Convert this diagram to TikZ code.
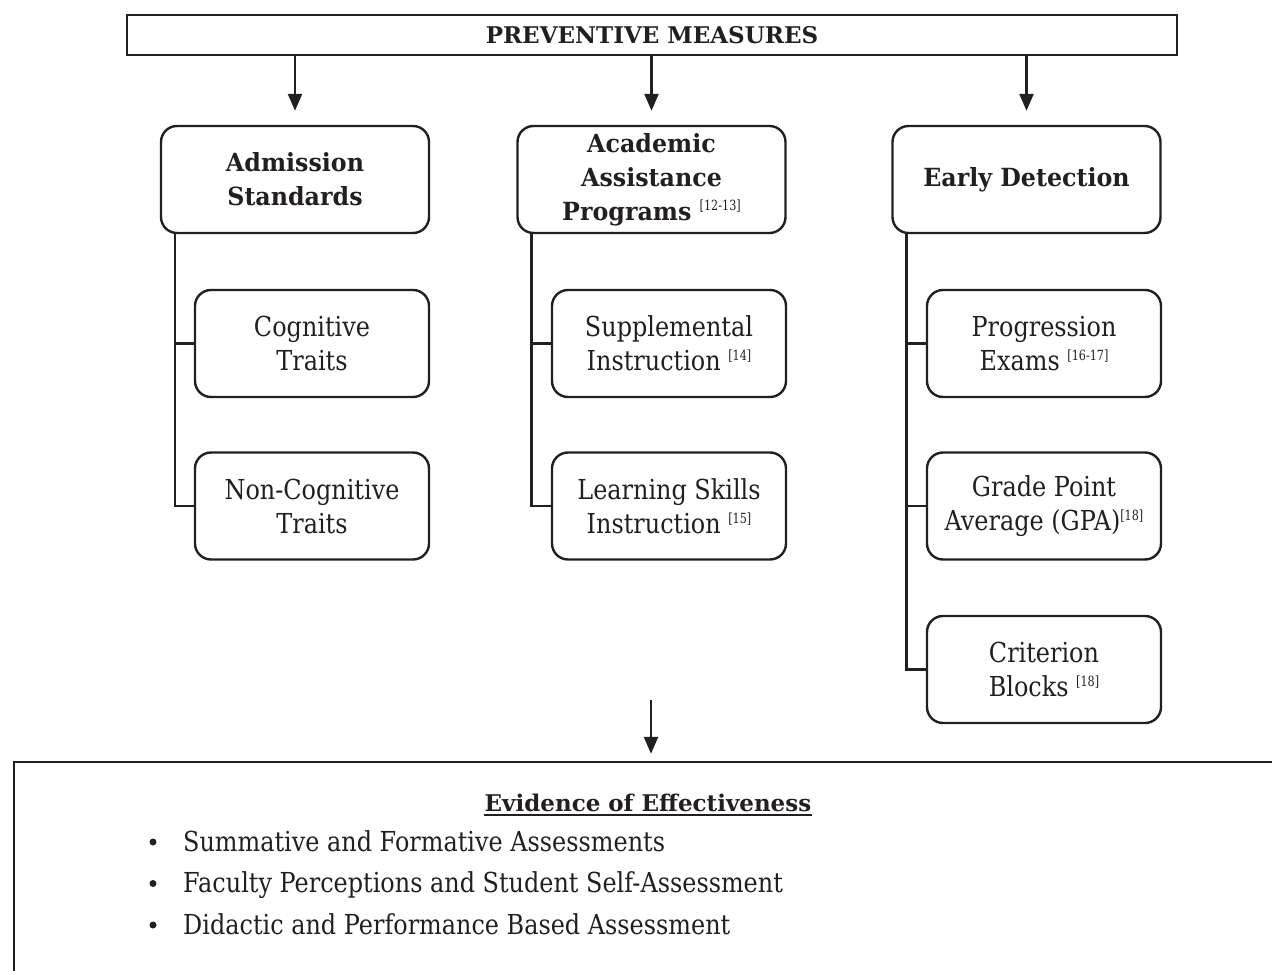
\documentclass[tikz,border=0pt]{standalone}
\usepackage{fontspec}
\setmainfont{DejaVu Serif}[FakeStretch=0.87]
\newfontfamily\ttlfont{DejaVu Serif}[FakeStretch=0.95]
\newfontfamily\hdfont{DejaVu Serif}[FakeStretch=1.0]
\newfontfamily\supfont{DejaVu Serif}[FakeStretch=0.8]
\usetikzlibrary{arrows.meta}
\definecolor{ink}{HTML}{231F20}
\newcommand{\refmark}[1]{\raisebox{10pt}{\supfont\mdseries\fontsize{14}{14}\selectfont[#1]}}
\tikzset{
  topbox/.style={draw, line width=2.4pt, minimum width=1050pt, minimum height=40pt, inner sep=0pt,
    font=\hdfont\bfseries\fontsize{23}{28}\selectfont},
  mainbox/.style={draw, line width=2.4pt, rounded corners=16pt, minimum width=268pt, minimum height=107pt,
    inner sep=0pt, align=center, font=\ttlfont\bfseries\fontsize{25}{34}\selectfont},
  subbox/.style={draw, line width=2.4pt, rounded corners=16pt, minimum width=234pt, minimum height=107pt,
    inner sep=0pt, align=center, font=\fontsize{27.5}{34}\selectfont},
  evbox/.style={draw, line width=2.4pt, minimum width=1276pt, minimum height=228pt, inner sep=0pt},
  evtitle/.style={inner sep=0pt, anchor=base, font=\hdfont\bfseries\fontsize{23}{28}\selectfont},
  bul/.style={inner sep=0pt, anchor=base west, font=\fontsize{27.5}{34}\selectfont},
  dot/.style={circle, fill, inner sep=0pt, minimum size=7pt},
  arr/.style={line width=2.4pt, -{Triangle[length=17pt,width=14pt]}},
  tree/.style={line width=2.4pt}
}
\begin{document}
\begin{tikzpicture}[x=1pt,y=-1pt,color=ink]
\useasboundingbox (0,0) rectangle (1272,971);
\clip (0,0) rectangle (1272,971);

\node[topbox] (pm) at (652,35) {PREVENTIVE MEASURES};

\node[mainbox] (adm) at (295,179.5) {Admission\\Standards};
\node[mainbox] (aca) at (651.5,179.5) {Academic\\Assistance\\Programs \refmark{12-13}};
\node[mainbox] (ear) at (1026.5,179.5) {Early Detection};

\node[subbox] (cog)  at (312,343.5) {Cognitive\\Traits};
\node[subbox] (ncog) at (312,506) {Non-Cognitive\\Traits};
\node[subbox] (sup)  at (669,343.5) {Supplemental\\Instruction \refmark{14}};
\node[subbox] (lsk)  at (669,506) {Learning Skills\\Instruction \refmark{15}};
\node[subbox] (pro)  at (1044,343.5) {Progression\\Exams \refmark{16-17}};
\node[subbox] (gpa)  at (1044,506) {Grade Point\\Average (GPA)\refmark{18}};
\node[subbox] (cri)  at (1044,669.5) {Criterion\\Blocks \refmark{18}};

\foreach \n in {adm,aca,ear}
  \draw[arr, shorten >=14pt] (pm.south -| \n.north) -- (\n.north);

\coordinate (admx) at ([xshift=15pt]adm.south west);
\coordinate (acax) at ([xshift=15pt]aca.south west);
\coordinate (earx) at ([xshift=15pt]ear.south west);
\draw[tree] (admx) |- (cog.west);
\draw[tree] (admx) |- (ncog.west);
\draw[tree] (acax) |- (sup.west);
\draw[tree] (acax) |- (lsk.west);
\draw[tree] (earx) |- (pro.west);
\draw[tree] (earx) |- (gpa.west);
\draw[tree] (earx) |- (cri.west);

\node[evbox] (ev) at (652,876) {};
\coordinate (evs) at (651,700);
\draw[arr, shorten >=7pt] (evs) -- (evs |- ev.north);

\node[evtitle] (evt) at (648,811) {Evidence of Effectiveness};
\draw[line width=1.8pt] ([yshift=-4pt]evt.base west) -- ([yshift=-4pt]evt.base east);

\node[bul] (b1) at (183,851) {Summative and Formative Assessments};
\node[bul] (b2) at (183,892.5) {Faculty Perceptions and Student Self-Assessment};
\node[bul] (b3) at (183,934) {Didactic and Performance Based Assessment};
\node[dot] (d1) at (153,842) {};
\node[dot] (d2) at (153,883.5) {};
\node[dot] (d3) at (153,925) {};
\end{tikzpicture}
\end{document}
